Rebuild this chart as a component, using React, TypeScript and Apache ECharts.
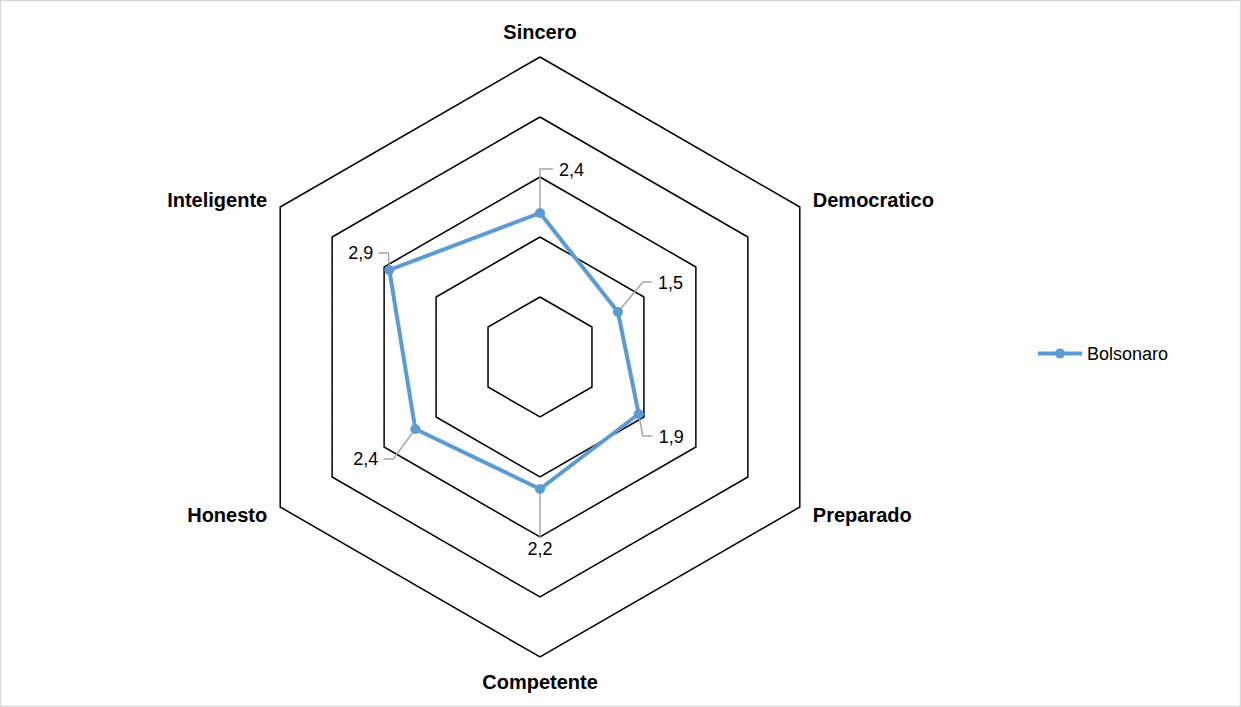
import React, { useEffect, useRef } from "react";
import * as echarts from "echarts";

// ---- data ----
// indicators listed counterclockwise from the top (ECharts radar order)
const indicators = ["Sincero", "Inteligente", "Honesto", "Competente", "Preparado", "Democratico"];
const values = [2.4, 2.9, 2.4, 2.2, 1.9, 1.5];
const seriesName = "Bolsonaro";
const axisMin = 0;
const axisMax = 5;
const splitCount = 5;

// ---- layout / style ----
const W = 1241;
const H = 707;
const CENTER: [number, number] = [540, 357];
const RADIUS = 300;
const START_ANGLE = 90;
const BLUE = "#5b9bd5";
const FONT = '"Liberation Sans", Arial, Helvetica, sans-serif';

// leader line geometry per point (offsets relative to the data point)
const leaders = [
  { elbow: [0, -44], end: [13, -44], text: [19, -43], align: "left", vAlign: "middle" },
  { elbow: [-1, -17], end: [-11, -17], text: [-16, -17], align: "right", vAlign: "middle" },
  { elbow: [-22, 30], end: [-32, 30], text: [-37, 30], align: "right", vAlign: "middle" },
  { elbow: [0, 48], end: [0, 48], text: [0, 51], align: "center", vAlign: "top" },
  { elbow: [4, 22], end: [14, 22], text: [20, 23], align: "left", vAlign: "middle" },
  { elbow: [25, -30], end: [34, -30], text: [40, -29], align: "left", vAlign: "middle" },
];

const fmt = (v: number) => v.toFixed(1).replace(".", ",");

function pointOf(i: number, v: number): [number, number] {
  const a = ((START_ANGLE + (360 / indicators.length) * i) * Math.PI) / 180;
  const r = (RADIUS * (v - axisMin)) / (axisMax - axisMin);
  return [CENTER[0] + r * Math.cos(a), CENTER[1] - r * Math.sin(a)];
}

export default function App() {
  const ref = useRef<HTMLDivElement>(null);
  useEffect(() => {
    if (!ref.current) return;
    const chart = echarts.init(ref.current, undefined, { renderer: "svg" });

    const graphics: any[] = [
      {
        type: "rect",
        shape: { x: 0.5, y: 0.5, width: W - 1, height: H - 1 },
        style: { fill: "none", stroke: "#d9d9d9", lineWidth: 1.5 },
        silent: true,
      },
    ];
    values.forEach((v, i) => {
      const p = pointOf(i, v);
      const L = leaders[i];
      graphics.push({
        type: "polyline",
        shape: {
          points: [
            [p[0], p[1]],
            [p[0] + L.elbow[0], p[1] + L.elbow[1]],
            [p[0] + L.end[0], p[1] + L.end[1]],
          ],
        },
        style: { stroke: "#a6a6a6", lineWidth: 1.5, fill: "none" },
        z: 1,
        silent: true,
      });
      graphics.push({
        type: "text",
        x: p[0] + L.text[0],
        y: p[1] + L.text[1],
        style: {
          text: fmt(v),
          fill: "#000",
          font: `18px ${FONT}`,
          align: L.align,
          verticalAlign: L.vAlign,
          textAlign: L.align,
          textVerticalAlign: L.vAlign,
        },
        z: 10,
        silent: true,
      });
    });

    chart.setOption({
      animation: false,
      backgroundColor: "#ffffff",
      textStyle: { fontFamily: FONT },
      legend: {
        data: [seriesName],
        orient: "vertical",
        left: 1038,
        top: "middle",
        padding: 0,
        icon: "path://M0,3H17.42A5,5,0,0,1,26.58,3H44V7H26.58A5,5,0,0,1,17.42,7H0Z",
        itemWidth: 44,
        itemHeight: 10,
        itemGap: 5,
        itemStyle: { color: BLUE, borderWidth: 0 },
        textStyle: { fontSize: 18, color: "#000", fontFamily: FONT },
      },
      radar: {
        center: CENTER,
        radius: RADIUS,
        startAngle: START_ANGLE,
        shape: "polygon",
        splitNumber: splitCount,
        nameGap: 15,
        axisName: {
          color: "#000",
          fontWeight: "bold",
          fontSize: 20,
          fontFamily: FONT,
        },
        indicator: indicators.map((name) => ({ name, min: axisMin, max: axisMax })),
        axisLine: { show: false },
        axisTick: { show: false },
        axisLabel: { show: false },
        splitArea: { show: false },
        splitLine: { lineStyle: { color: "#000", width: 1.5 } },
      },
      series: [
        {
          type: "radar",
          name: seriesName,
          symbol: "circle",
          symbolSize: 10,
          itemStyle: { color: BLUE },
          lineStyle: { color: BLUE, width: 4 },
          z: 5,
          data: [{ name: seriesName, value: values }],
        },
      ],
      graphic: { elements: graphics },
    });
    return () => chart.dispose();
  }, []);
  return <div ref={ref} style={{ position: "fixed", left: 0, top: 0, width: W, height: H }} />;
}
